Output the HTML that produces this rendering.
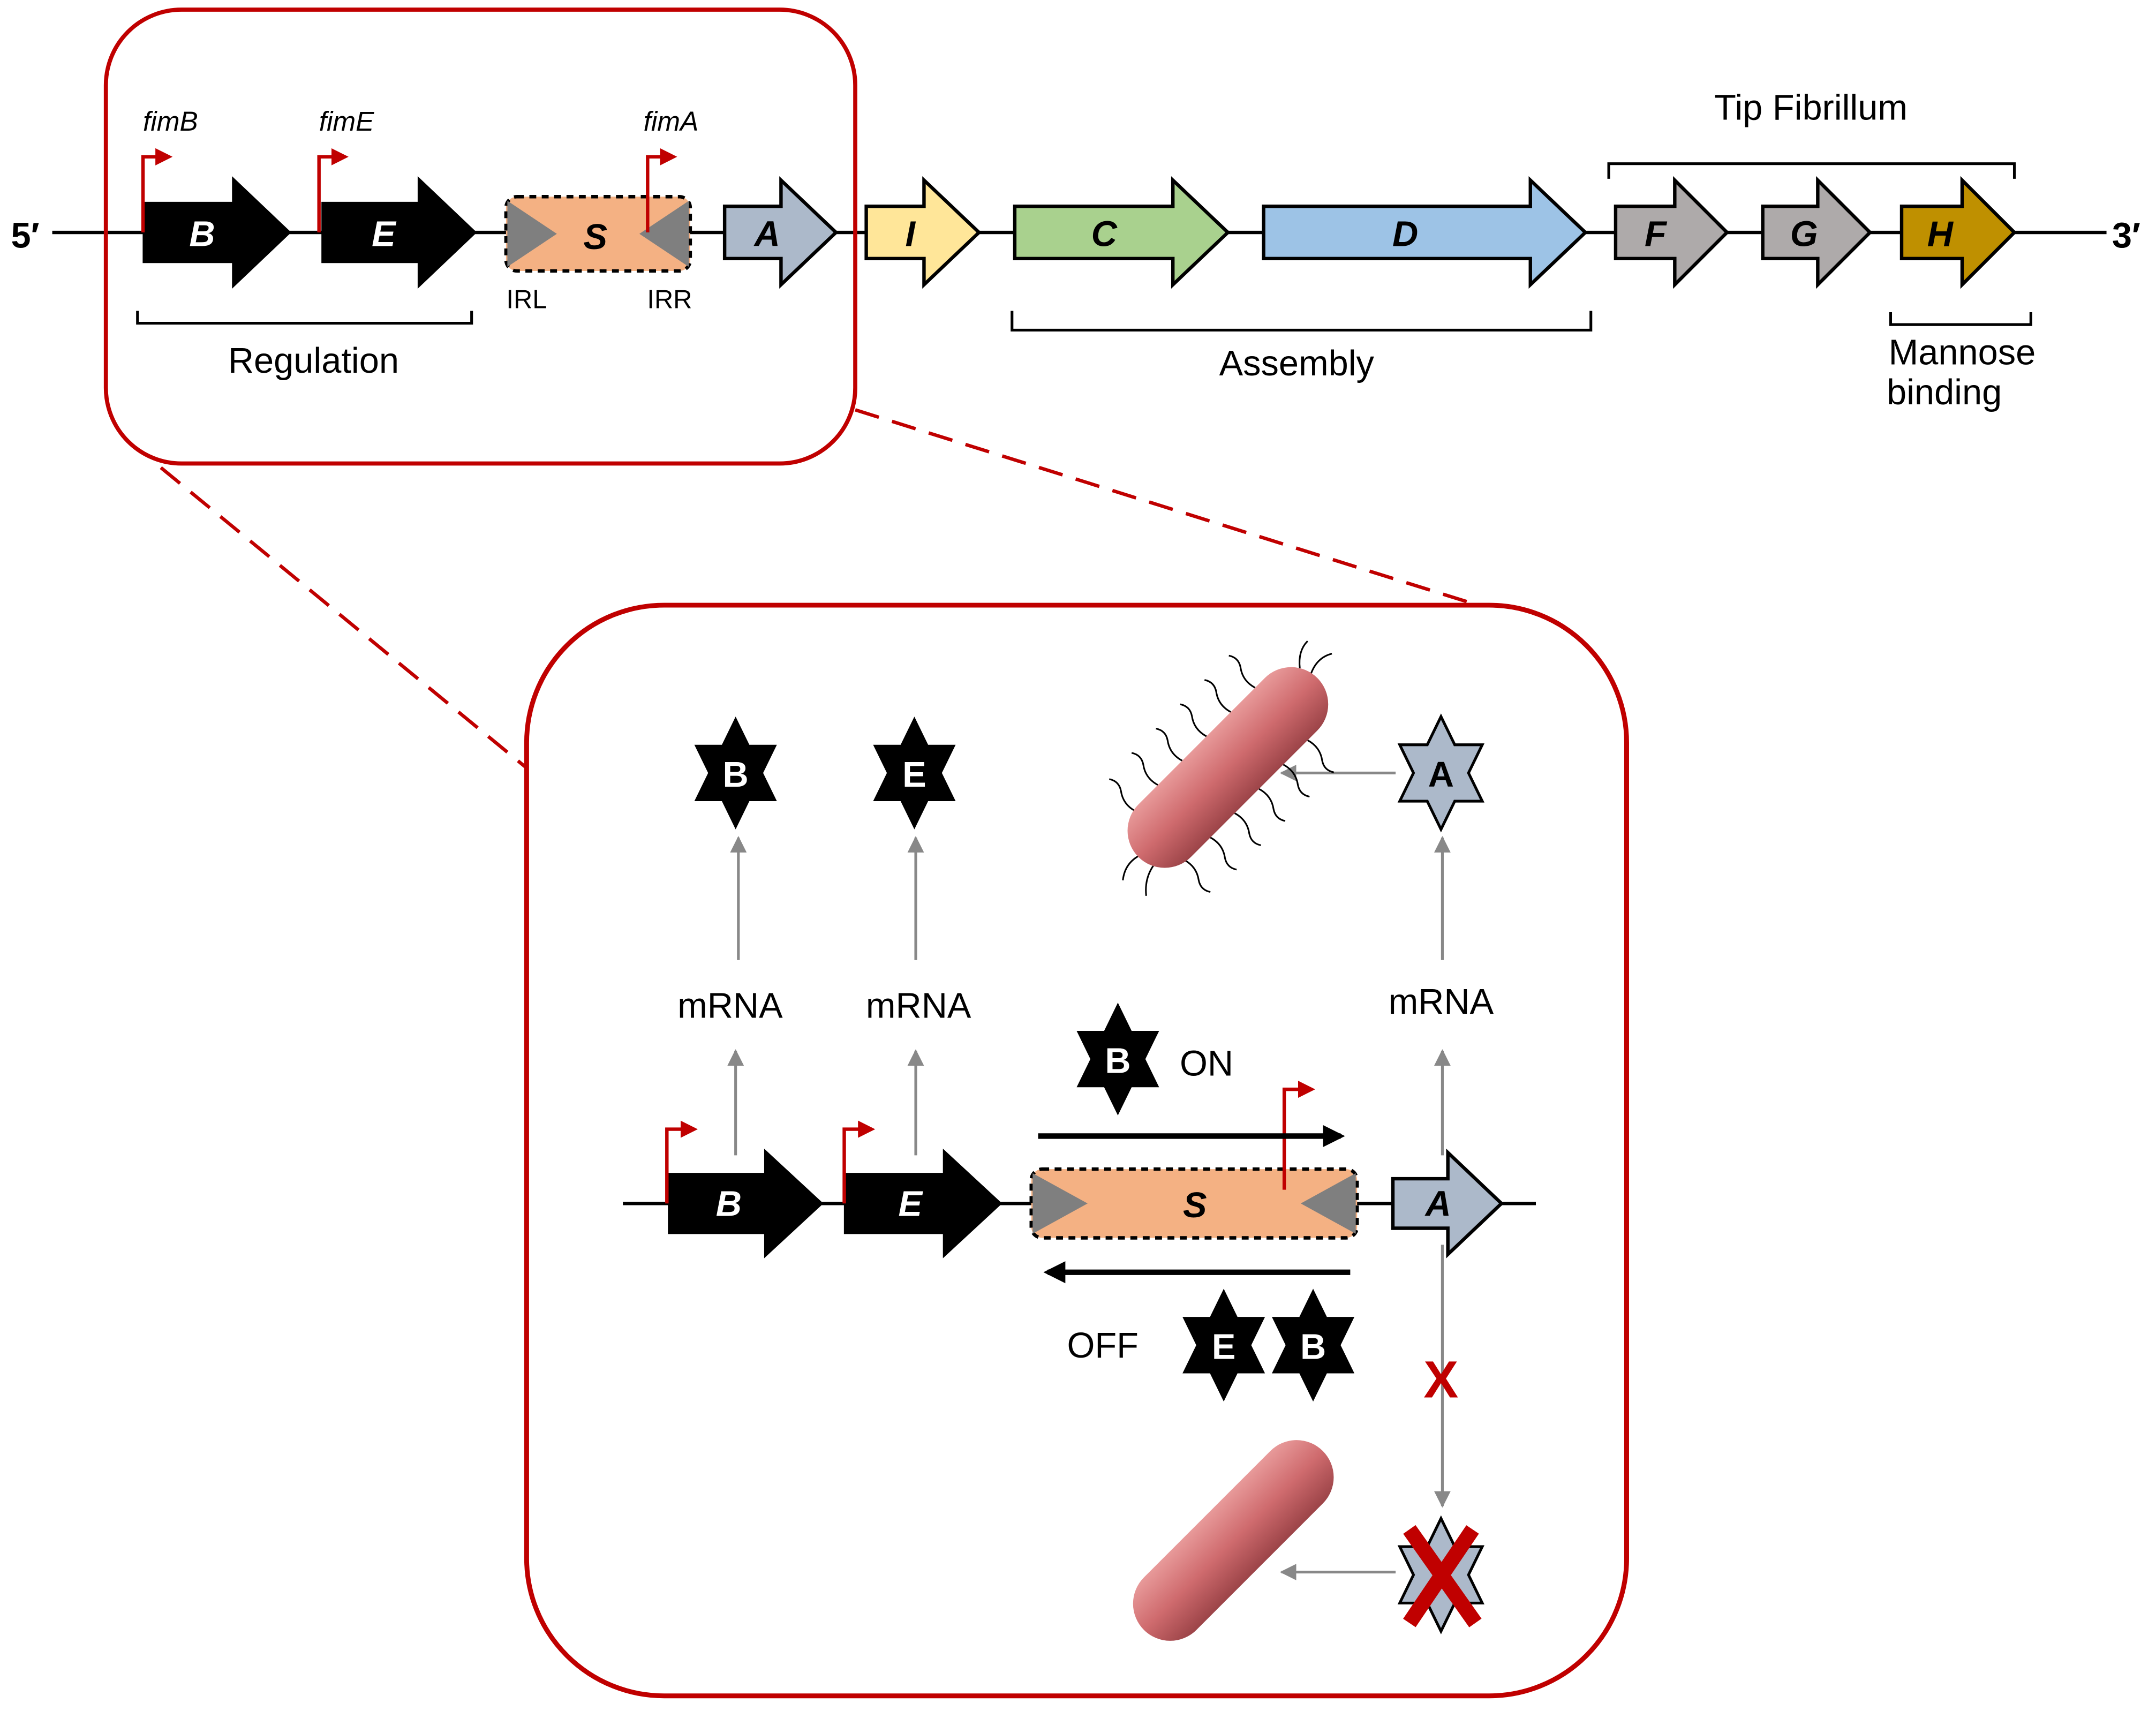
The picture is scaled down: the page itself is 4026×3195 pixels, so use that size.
<!DOCTYPE html>
<html><head><meta charset="utf-8"><style>
html,body{margin:0;padding:0;background:#fff}
svg{display:block}
text{font-family:"Liberation Sans",Arial,sans-serif}
</style></head><body>
<svg width="4026" height="3195" viewBox="0 0 1568 1244" preserveAspectRatio="none" xmlns="http://www.w3.org/2000/svg">
<defs>
<polygon id="star" points="0,-41 10,-20.5 30,-20.5 20,0 30,20.5 10,20.5 0,41 -10,20.5 -30,20.5 -20,0 -30,-20.5 -10,-20.5"/>
<marker id="ga" viewBox="0 0 10 10" refX="9" refY="5" markerWidth="6" markerHeight="6" orient="auto"><path d="M0,0 L10,5 L0,10 z" fill="#888"/></marker>
<marker id="ra" viewBox="0 0 10 10" refX="8" refY="5" markerWidth="5" markerHeight="5" orient="auto"><path d="M0,0 L10,5 L0,10 z" fill="#c00000"/></marker>
<marker id="ba" viewBox="0 0 10 10" refX="8" refY="5" markerWidth="4" markerHeight="4" orient="auto"><path d="M0,0 L10,5 L0,10 z" fill="#000"/></marker>
<linearGradient id="bac" x1="0" y1="0" x2="0" y2="1"><stop offset="0" stop-color="#e89a9a"/><stop offset="0.5" stop-color="#cf6b6e"/><stop offset="1" stop-color="#9c4448"/></linearGradient>
</defs>
<rect width="1568" height="1244" fill="#fff"/>

<line x1="38" y1="169" x2="1532" y2="169" stroke="#000" stroke-width="2.5"/>
<text x="8" y="180" font-size="26" font-weight="bold">5′</text>
<text x="1536" y="180" font-size="26" font-weight="bold">3′</text>

<g stroke="#000" stroke-width="2.5" stroke-linejoin="miter">
<path d="M105,148 L170,148 L170,131 L210,169 L170,207 L170,190 L105,190Z" fill="#000"/>
<path d="M235,148 L305,148 L305,131 L345,169 L305,207 L305,190 L235,190Z" fill="#000"/>
<path d="M527,150 L568,150 L568,131 L608,169 L568,207 L568,188 L527,188Z" fill="#acb9ca"/>
<path d="M630,150 L672,150 L672,131 L712,169 L672,207 L672,188 L630,188Z" fill="#ffe699"/>
<path d="M738,150 L853,150 L853,131 L893,169 L853,207 L853,188 L738,188Z" fill="#a9d18e"/>
<path d="M919,150 L1113,150 L1113,131 L1153,169 L1113,207 L1113,188 L919,188Z" fill="#9dc3e6"/>
<path d="M1175,150 L1218,150 L1218,131 L1256,169 L1218,207 L1218,188 L1175,188Z" fill="#aeaaaa"/>
<path d="M1282,150 L1322,150 L1322,131 L1360,169 L1322,207 L1322,188 L1282,188Z" fill="#aeaaaa"/>
<path d="M1383,150 L1427,150 L1427,131 L1465,169 L1427,207 L1427,188 L1383,188Z" fill="#bf9000"/>
</g>
<rect x="368" y="143" width="134" height="54" rx="8" fill="#f4b183" stroke="#000" stroke-width="2.5" stroke-dasharray="5,4"/>
<polygon points="369,146 405,170 369,194" fill="#7f7f7f"/>
<polygon points="501,146 465,170 501,194" fill="#7f7f7f"/>
<g font-size="26" font-weight="bold" font-style="italic" text-anchor="middle">
<text x="147" y="179" fill="#fff">B</text>
<text x="279" y="179" fill="#fff">E</text>
<text x="433" y="181">S</text>
<text x="558" y="179">A</text>
<text x="662" y="179">I</text>
<text x="803" y="179">C</text>
<text x="1022" y="179">D</text>
<text x="1204" y="179">F</text>
<text x="1312" y="179">G</text>
<text x="1411" y="179">H</text>
</g>
<g stroke="#c00000" stroke-width="2.5" fill="none">
<path d="M104,169 L104,114 L123,114" marker-end="url(#ra)"/>
<path d="M232,169 L232,114 L251,114" marker-end="url(#ra)"/>
<path d="M471,169 L471,114 L490,114" marker-end="url(#ra)"/>
</g>
<g font-size="20" font-style="italic" text-anchor="middle">
<text x="124" y="95">fimB</text><text x="252" y="95">fimE</text><text x="488" y="95">fimA</text>
</g>
<g font-size="19" text-anchor="middle"><text x="383" y="224">IRL</text><text x="487" y="224">IRR</text></g>
<g stroke="#000" stroke-width="2" fill="none">
<path d="M100,226 L100,235 L343,235 L343,226"/>
<path d="M736,226 L736,240 L1157,240 L1157,226"/>
<path d="M1170,130 L1170,119 L1465,119 L1465,130"/>
<path d="M1375,227 L1375,236 L1477,236 L1477,227"/>
</g>
<g font-size="26" text-anchor="middle">
<text x="228" y="271">Regulation</text>
<text x="943" y="273">Assembly</text>
<text x="1317" y="87">Tip Fibrillum</text>
<text x="1427" y="265">Mannose</text>
<text x="1414" y="294">binding</text>
</g>

<rect x="77" y="7" width="545" height="330" rx="55" fill="none" stroke="#c00000" stroke-width="3"/>
<line x1="117" y1="340" x2="385" y2="560" stroke="#c00000" stroke-width="2.5" stroke-dasharray="18,10"/>
<line x1="622" y1="298" x2="1075" y2="440" stroke="#c00000" stroke-width="2.5" stroke-dasharray="18,10"/>
<rect x="383" y="440" width="800" height="793" rx="100" fill="#fff" stroke="#c00000" stroke-width="3.5"/>

<use href="#star" x="535" y="562" fill="#000"/>
<use href="#star" x="665" y="562" fill="#000"/>
<use href="#star" x="1048" y="562" fill="#acb9ca" stroke="#000" stroke-width="2"/>
<g font-size="26" font-weight="bold" text-anchor="middle">
<text x="535" y="572" fill="#fff">B</text><text x="665" y="572" fill="#fff">E</text><text x="1048" y="572">A</text>
</g>
<g stroke="#888" stroke-width="2" fill="none" marker-end="url(#ga)">
<line x1="537" y1="698" x2="537" y2="609"/>
<line x1="666" y1="698" x2="666" y2="609"/>
<line x1="1049" y1="698" x2="1049" y2="609"/>
<line x1="535" y1="840" x2="535" y2="764"/>
<line x1="666" y1="840" x2="666" y2="764"/>
<line x1="1049" y1="840" x2="1049" y2="764"/>
<line x1="1049" y1="905" x2="1049" y2="1095"/>
<line x1="1015" y1="562" x2="932" y2="562"/>
<line x1="1015" y1="1143" x2="932" y2="1143"/>
</g>
<g font-size="26" text-anchor="middle">
<text x="531" y="740">mRNA</text><text x="668" y="740">mRNA</text><text x="1048" y="737">mRNA</text>
</g>

<line x1="453" y1="875" x2="1117" y2="875" stroke="#000" stroke-width="2.5"/>
<g stroke="#000" stroke-width="2.5">
<path d="M487,854 L557,854 L557,838 L597,875 L557,912 L557,896 L487,896Z" fill="#000"/>
<path d="M615,854 L687,854 L687,838 L727,875 L687,912 L687,896 L615,896Z" fill="#000"/>
<path d="M1013,857 L1053,857 L1053,838 L1092,875 L1053,912 L1053,893 L1013,893Z" fill="#acb9ca"/>
</g>
<rect x="750" y="850" width="237" height="50" rx="8" fill="#f4b183" stroke="#000" stroke-width="2.5" stroke-dasharray="5,4"/>
<polygon points="751,853 791,875 751,897" fill="#7f7f7f"/>
<polygon points="986,853 946,875 986,897" fill="#7f7f7f"/>
<g font-size="26" font-weight="bold" font-style="italic" text-anchor="middle">
<text x="530" y="884" fill="#fff">B</text><text x="662" y="884" fill="#fff">E</text>
<text x="869" y="885">S</text><text x="1046" y="884">A</text>
</g>
<g stroke="#c00000" stroke-width="2.5" fill="none">
<path d="M485,875 L485,821 L505,821" marker-end="url(#ra)"/>
<path d="M614,875 L614,821 L634,821" marker-end="url(#ra)"/>
<path d="M934,865 L934,792 L954,792" marker-end="url(#ra)"/>
</g>
<line x1="755" y1="826" x2="975" y2="826" stroke="#000" stroke-width="4" marker-end="url(#ba)"/>
<line x1="982" y1="925" x2="762" y2="925" stroke="#000" stroke-width="4" marker-end="url(#ba)"/>
<use href="#star" x="813" y="770" fill="#000"/>
<use href="#star" x="890" y="978" fill="#000"/>
<use href="#star" x="955" y="978" fill="#000"/>
<g font-size="26" font-weight="bold" text-anchor="middle" fill="#fff">
<text x="813" y="780">B</text><text x="890" y="988">E</text><text x="955" y="988">B</text>
</g>
<text x="858" y="782" font-size="26">ON</text>
<text x="776" y="987" font-size="26">OFF</text>

<text x="1048" y="1016" font-size="38" font-weight="bold" fill="#c00000" text-anchor="middle">X</text>
<use href="#star" x="1048" y="1145" fill="#acb9ca" stroke="#000" stroke-width="2"/>
<g stroke="#c00000" stroke-width="11" stroke-linecap="butt">
<line x1="1025" y1="1112" x2="1073" y2="1180"/>
<line x1="1071" y1="1112" x2="1025" y2="1180"/>
</g>

<g transform="translate(893,558) rotate(-45)">
<g stroke="#000" stroke-width="1.2" fill="none">
<path d="M-70,-25 q-3,-10 3,-18 q4,-6 0,-12"/><path d="M-45,-27 q-3,-10 3,-18 q4,-6 0,-12"/>
<path d="M-20,-27 q-3,-10 3,-18 q4,-6 0,-12"/><path d="M5,-27 q-3,-10 3,-18 q4,-6 0,-12"/>
<path d="M30,-27 q-3,-10 3,-18 q4,-6 0,-12"/><path d="M55,-27 q-3,-10 3,-18 q4,-6 0,-12"/>
<path d="M-70,25 q3,10 -3,18 q-4,6 0,12"/><path d="M-45,27 q3,10 -3,18 q-4,6 0,12"/>
<path d="M-20,27 q3,10 -3,18 q-4,6 0,12"/><path d="M5,27 q3,10 -3,18 q-4,6 0,12"/>
<path d="M30,27 q3,10 -3,18 q-4,6 0,12"/><path d="M55,27 q3,10 -3,18 q-4,6 0,12"/>
<path d="M-90,0 q-12,-4 -22,4"/><path d="M-88,12 q-12,2 -20,12"/>
<path d="M90,-5 q12,-6 22,0"/><path d="M88,-14 q8,-10 18,-10"/>
</g>
<rect x="-92" y="-27" width="184" height="54" rx="27" fill="url(#bac)"/>
</g>
<g transform="translate(897,1120) rotate(-45)">
<rect x="-92" y="-27" width="184" height="54" rx="27" fill="url(#bac)"/>
</g>
</svg>
</body></html>
